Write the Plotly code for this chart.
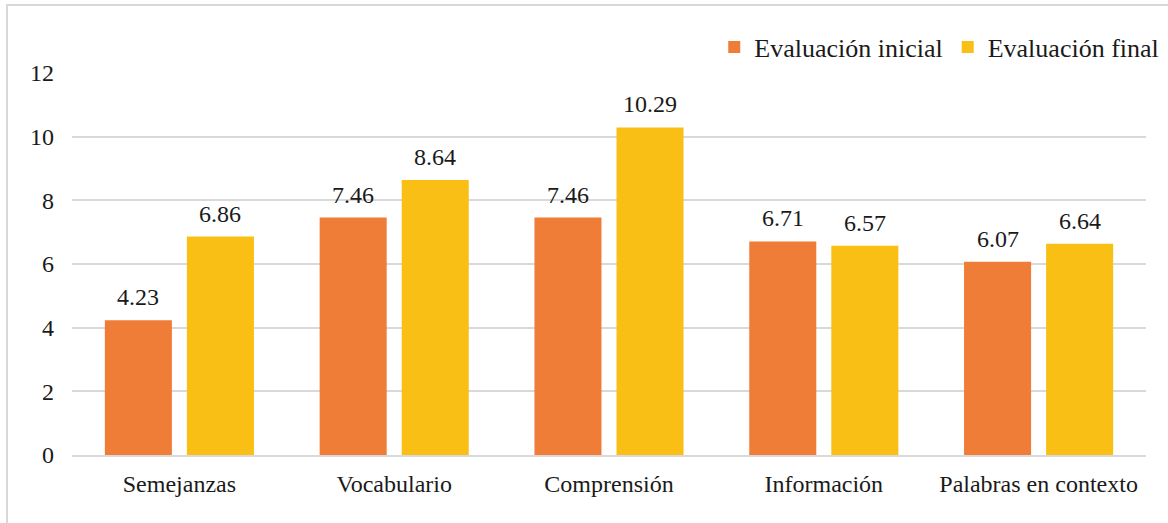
import plotly.graph_objects as go

categorias = ["Semejanzas", "Vocabulario", "Comprensión", "Información", "Palabras en contexto"]
evaluacion_inicial = [4.23, 7.46, 7.46, 6.71, 6.07]
evaluacion_final = [6.86, 8.64, 10.29, 6.57, 6.64]
ticks_y = [0, 2, 4, 6, 8, 10, 12]

SERIF = "Times New Roman"
TEXTO = "#1a1a1a"

# width in pixels of one category slot and of one bar slot inside it
ANCHO_CATEGORIA = (1168 - 72 - 22) / len(categorias)
BARGAP = 0.236
DESPLAZAMIENTO = ANCHO_CATEGORIA * (1 - BARGAP) / 4

fig = go.Figure()
fig.add_trace(go.Bar(
    name="Evaluación inicial",
    x=categorias,
    y=evaluacion_inicial,
    marker=dict(color="#EF7D37", line=dict(width=0)),
))
fig.add_trace(go.Bar(
    name="Evaluación final",
    x=categorias,
    y=evaluacion_final,
    marker=dict(color="#F9BF14", line=dict(width=0)),
))

# value labels above each bar
etiquetas = []
for serie, signo in ((evaluacion_inicial, -1), (evaluacion_final, 1)):
    for cat, v in zip(categorias, serie):
        etiquetas.append(dict(
            x=cat, y=v, xref="x", yref="y",
            text=f"{v:.2f}", showarrow=False,
            xanchor="center", yanchor="bottom",
            xshift=signo * DESPLAZAMIENTO, yshift=8,
            font=dict(family=SERIF, size=24, color=TEXTO),
        ))

fig.update_layout(
    width=1168,
    height=523,
    margin=dict(l=72, r=22, t=73, b=68, autoexpand=False),
    paper_bgcolor="white",
    plot_bgcolor="white",
    barmode="group",
    bargap=BARGAP,
    bargroupgap=0.183,
    showlegend=True,
    legend=dict(
        orientation="h",
        x=1.017, xanchor="right",
        y=1.068, yanchor="middle",
        font=dict(family=SERIF, size=26, color=TEXTO),
        itemwidth=30,
        tracegroupgap=0,
        bgcolor="rgba(0,0,0,0)",
    ),
    xaxis=dict(
        showgrid=False,
        showline=True,
        linecolor="#D9D9D9",
        linewidth=1.5,
        ticks="",
        tickfont=dict(family=SERIF, size=24, color=TEXTO),
        ticklabelstandoff=6,
        automargin=False,
    ),
    yaxis=dict(
        range=[0, 12],
        tickvals=ticks_y,
        showgrid=True,
        gridcolor="#D9D9D9",
        gridwidth=1.5,
        zeroline=False,
        showline=False,
        ticks="",
        tickfont=dict(family=SERIF, size=24, color=TEXTO),
        ticklabelstandoff=17,
        automargin=False,
    ),
    annotations=etiquetas,
    shapes=[
        dict(
            type="rect", xref="paper", yref="paper",
            x0=-65 / 1074, x1=1.1, y0=-0.3, y1=(455 - 5) / 382,
            line=dict(color="#D9D9D9", width=2),
            fillcolor="rgba(0,0,0,0)",
            layer="below",
        )
    ],
)

fig.write_html("out.html")
